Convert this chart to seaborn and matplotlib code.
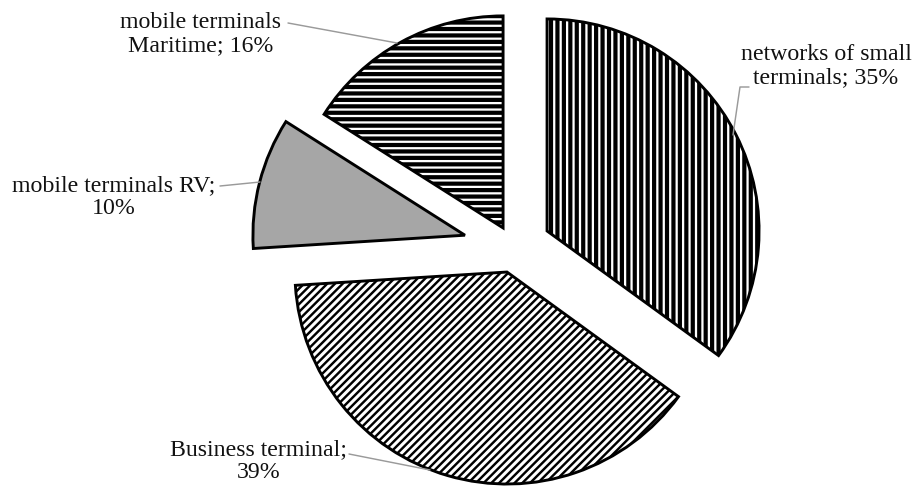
import matplotlib
matplotlib.use("Agg")
import matplotlib.pyplot as plt
import seaborn as sns

# slice data, clockwise from the top
names = ["networks of small\nterminals", "Business terminal;\n", "mobile terminals RV;\n", "mobile terminals\nMaritime"]
shares = [35, 39, 10, 16]
explode = [0.175, 0.119, 0.239, 0.107]
hatches = ["|||", "/////", "", "---"]
hatch_lw = [2.6, 1.5, 1.0, 2.6]
fills = ["white", "white", "#a6a6a6", "white"]

sns.set_theme(style="white")
plt.rcParams["font.family"] = ["Liberation Serif", "DejaVu Serif"]
plt.rcParams["hatch.linewidth"] = 2.6
plt.rcParams["hatch.color"] = "black"

DPI = 116
W, H = 916, 488
R = 212.0
CX, CY = 514.0, 247.8


def px(x, y):
    # pixel position in the picture -> data coordinates
    return (x - CX) / R, (CY - y) / R


fig = plt.figure(figsize=(W / DPI, H / DPI), dpi=DPI)
ax = fig.add_axes([0, 0, 1, 1])
wedges, _ = ax.pie(shares, explode=explode, startangle=90, counterclock=False,
                   colors=fills, radius=1,
                   wedgeprops=dict(edgecolor="black", linewidth=1.8))
for w, h, hl in zip(wedges, hatches, hatch_lw):
    w.set_hatch(h)
    w.set_edgecolor("black")
    if hasattr(w, "set_hatch_linewidth"):
        w.set_hatch_linewidth(hl)

ax.set_xlim(-CX / R, (W - CX) / R)
ax.set_ylim(-(H - CY) / R, CY / R)
ax.set_aspect("equal")
ax.axis("off")

labels = [f"networks of small\nterminals; {shares[0]}%",
          f"Business terminal;\n{shares[1]}%",
          f"mobile terminals RV;\n{shares[2]}%",
          f"mobile terminals\nMaritime; {shares[3]}%"]
label_pos = [(826, 66), (259, 461), (114, 197), (201, 34)]
leaders = [[(749, 87), (740, 87), (733, 135)],
           [(349, 454), (430, 470)],
           [(220, 186), (260, 182)],
           [(288, 23), (397, 43)]]

for txt, (lx, ly), pts in zip(labels, label_pos, leaders):
    x, y = px(lx, ly)
    ax.text(x, y, txt, ha="center", va="center", fontsize=14.8,
            color="#111111", linespacing=1.1)
    xs, ys = zip(*[px(a, b) for a, b in pts])
    ax.plot(xs, ys, color="#9a9a9a", lw=0.9)

fig.savefig("out.png", dpi=DPI, facecolor="white")
